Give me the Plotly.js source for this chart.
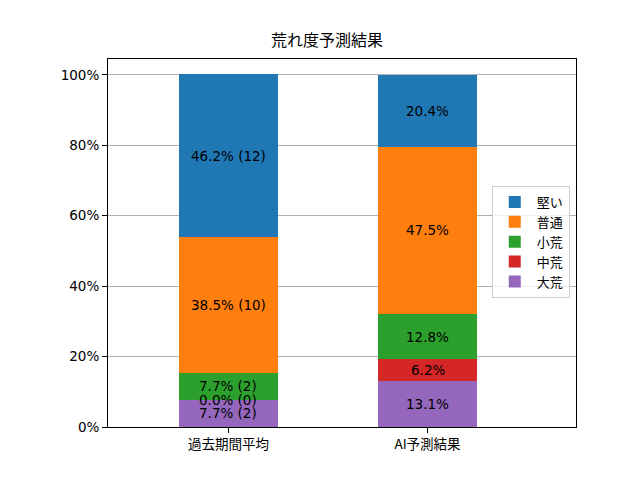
<!DOCTYPE html>
<html>
<head>
<meta charset="utf-8">
<script src="https://cdn.plot.ly/plotly-3.0.1.min.js"></script>
<style>
  body { margin: 0; background: #fff; }
  #chart { width: 640px; height: 480px; }
</style>
</head>
<body>
<div id="chart"></div>
<script>
// categories on x axis
var categories = ['過去期間平均', 'AI予測結果'];

// stacked from bottom to top
var seriesNames = ['大荒', '中荒', '小荒', '普通', '堅い'];
var seriesColors = ['#9467bd', '#d62728', '#2ca02c', '#ff7f0e', '#1f77b4'];

// percent values per series: [過去期間平均, AI予測結果]
var daiare  = [7.7, 13.1];
var chuare  = [0.0, 6.2];
var shoare  = [7.7, 12.8];
var futsuu  = [38.5, 47.5];
var katai   = [46.2, 20.4];
var seriesValues = [daiare, chuare, shoare, futsuu, katai];

// race counts for past period (bottom to top)
var pastCounts = [2, 0, 2, 10, 12];

var yTicks = [0, 20, 40, 60, 80, 100];
var yTickText = yTicks.map(function(t){ return t + '%'; });

var jpFont = '"Noto Sans CJK JP", "DejaVu Sans", sans-serif';
var numFont = '"DejaVu Sans", "Noto Sans CJK JP", sans-serif';

var traces = [];
var annotations = [];
var base = categories.map(function(){ return 0; });

for (var i = 0; i < seriesNames.length; i++) {
  var vals = seriesValues[i];
  traces.push({
    type: 'bar',
    x: [0, 1],
    y: vals,
    name: seriesNames[i],
    width: 0.5,
    marker: { color: seriesColors[i], line: { width: 0 } },
    hoverinfo: 'none'
  });
  for (var j = 0; j < categories.length; j++) {
    var label = vals[j].toFixed(1) + '%';
    if (j == 0) label += ' (' + pastCounts[i] + ')';
    annotations.push({
      x: j, y: base[j] + vals[j] / 2,
      xref: 'x', yref: 'y',
      text: label,
      showarrow: false,
      borderpad: 0,
      font: { family: numFont, size: 13.5, color: '#000' }
    });
    base[j] += vals[j];
  }
}

annotations.push({
  x: 0.4685, y: 1.0, xref: 'paper', yref: 'paper',
  xanchor: 'center', yanchor: 'bottom', yshift: 6,
  text: '荒れ度予測結果', showarrow: false,
  font: { family: jpFont, size: 16, color: '#000' }
});

var layout = {
  width: 640, height: 480,
  margin: { l: 108, r: 64, t: 59, b: 53 },
  paper_bgcolor: '#fff', plot_bgcolor: '#fff',
  barmode: 'stack',
  font: { family: jpFont, size: 13.5, color: '#000' },
  xaxis: {
    range: [-0.605, 1.746],
    tickvals: [0, 1], ticktext: categories,
    tickfont: { family: jpFont, size: 13.5 },
    showgrid: false, zeroline: false,
    showline: true, linecolor: '#000', linewidth: 1, mirror: true,
    ticks: 'outside', ticklen: 5, tickcolor: '#000',
    fixedrange: true
  },
  yaxis: {
    range: [0, 104.5],
    tickvals: yTicks, ticktext: yTickText,
    tickfont: { family: numFont, size: 13.5 },
    showgrid: true, gridcolor: '#b0b0b0', gridwidth: 1,
    zeroline: false,
    showline: true, linecolor: '#000', linewidth: 1, mirror: true,
    ticks: 'outside', ticklen: 5, tickcolor: '#000',
    fixedrange: true
  },
  legend: {
    x: 0.82, y: 0.655, xanchor: 'left', yanchor: 'top',
    traceorder: 'reversed',
    itemwidth: 34,
    bgcolor: 'rgba(255,255,255,0.8)',
    bordercolor: '#cccccc', borderwidth: 1,
    font: { family: jpFont, size: 13 }
  },
  annotations: annotations,
  showlegend: true
};

Plotly.newPlot('chart', traces, layout, { staticPlot: true });
</script>
</body>
</html>
